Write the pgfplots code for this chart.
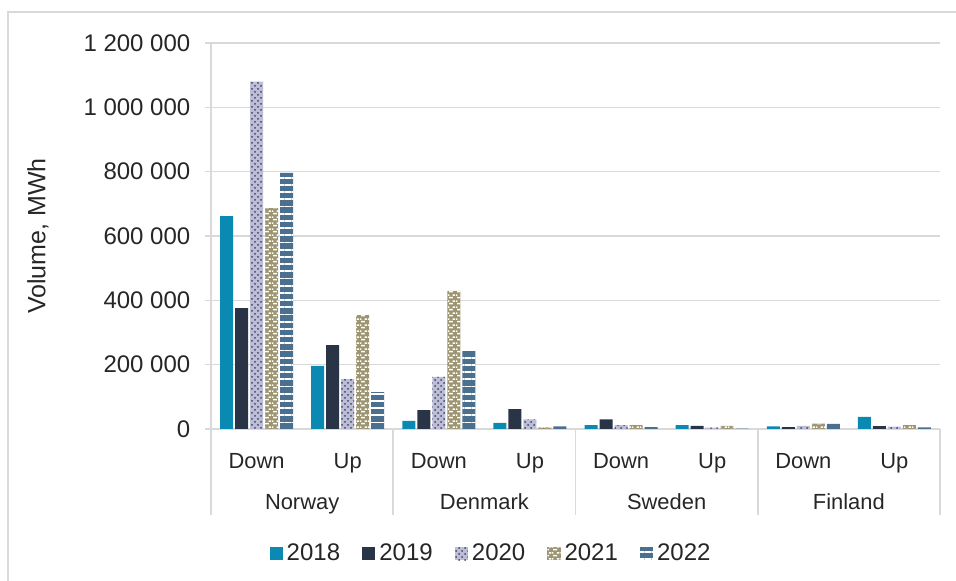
\documentclass[border=0pt,11pt]{standalone}
\usepackage{fontspec}
\setmainfont{Liberation Sans}
\usepackage{pgfplots}
\pgfplotsset{compat=1.18}
\usetikzlibrary{patterns,patterns.meta}
\definecolor{c18}{HTML}{0A89B3}
\definecolor{c19}{HTML}{2A3447}
\definecolor{c20}{HTML}{BDBED4}
\definecolor{c20p}{HTML}{3C4173}
\definecolor{c21}{HTML}{9D9472}
\definecolor{c22}{HTML}{4A6F8F}
\definecolor{gridc}{HTML}{D9D9D9}
\definecolor{txt}{HTML}{262626}
\pgfdeclarepatternformonly{whitebricks}{\pgfpointorigin}{\pgfpoint{4pt}{3pt}}{\pgfpoint{4pt}{3pt}}{%
  \pgfpathrectangle{\pgfpoint{0.6pt}{0.3pt}}{\pgfpoint{2.2pt}{0.9pt}}%
  \pgfpathrectangle{\pgfpoint{2.6pt}{1.8pt}}{\pgfpoint{1.4pt}{0.9pt}}%
  \pgfpathrectangle{\pgfpoint{0pt}{1.8pt}}{\pgfpoint{0.8pt}{0.9pt}}%
  \pgfusepath{fill}}
\begin{document}
\begin{tikzpicture}
\useasboundingbox (0,0) rectangle (478pt,290.5pt);
\draw[gridc, line width=0.9pt] (4pt,-5pt) -- (4pt,284.5pt) -- (490pt,284.5pt);
\begin{axis}[
  at={(105.5pt,76pt)}, anchor=south west,
  scale only axis, width=364.5pt, height=193pt,
  ybar=1pt, bar width=6.5pt,
  xmin=-0.5, xmax=7.5, ymin=0, ymax=1200000,
  scaled y ticks=false,
  xtick={0,...,7},
  xticklabels={Down,Up,Down,Up,Down,Up,Down,Up},
  xtick style={draw=none},
  xticklabel style={anchor=base, yshift=-17pt, text=txt},
  ytick={0,200000,400000,600000,800000,1000000,1200000},
  yticklabels={0,200 000,400 000,600 000,800 000,1 000 000,1 200 000},
  yticklabel style={text=txt, xshift=-3.5pt, font=\fontsize{12}{14}\selectfont},
  ytick align=outside, major tick length=3pt,
  ytick style={gridc, line width=0.8pt},
  ymajorgrids, grid style={gridc, line width=0.8pt},
  axis x line*=bottom, axis y line*=left,
  axis line style={gridc, line width=0.8pt, -},
  clip=false,
  legend columns=5,
  legend style={draw=none, at={(0.3855,-0.323)}, anchor=center, font=\fontsize{12}{14}\selectfont, text=txt,
    /tikz/every even column/.append style={column sep=9pt}},
  legend image code/.code={\path[#1] (0pt,-3.3pt) rectangle (6.6pt,3.3pt);},
]
\addplot[fill=c18, draw=none] coordinates {(0,662000) (1,196000) (2,25000) (3,19000) (4,12000) (5,12000) (6,8000) (7,38000)};
\addplot[fill=c19, draw=none] coordinates {(0,376000) (1,261000) (2,59000) (3,62000) (4,30000) (5,10000) (6,6000) (7,9000)};
\addplot[fill=c20, draw=none, postaction={pattern=crosshatch dots, pattern color=c20p}] coordinates {(0,1080000) (1,155000) (2,162000) (3,30000) (4,12000) (5,4000) (6,10000) (7,7000)};
\addplot[fill=c21, draw=none, postaction={pattern=whitebricks, pattern color=white}] coordinates {(0,687000) (1,354000) (2,429000) (3,5000) (4,12000) (5,10000) (6,17000) (7,12000)};
\addplot[fill=c22, draw=none, postaction={pattern={Lines[angle=0,distance=3.6pt,line width=0.9pt]}, pattern color=white}] coordinates {(0,796000) (1,115000) (2,242000) (3,8000) (4,6000) (5,1000) (6,16000) (7,5000)};
\legend{2018,2019,2020,2021,2022}
\draw[gridc, line width=0.8pt] (axis cs:-0.5,0) -- ([yshift=-43pt]axis cs:-0.5,0);
\draw[gridc, line width=0.8pt] (axis cs:1.5,0) -- ([yshift=-43pt]axis cs:1.5,0);
\draw[gridc, line width=0.8pt] (axis cs:3.5,0) -- ([yshift=-43pt]axis cs:3.5,0);
\draw[gridc, line width=0.8pt] (axis cs:5.5,0) -- ([yshift=-43pt]axis cs:5.5,0);
\draw[gridc, line width=0.8pt] (axis cs:7.5,0) -- ([yshift=-43pt]axis cs:7.5,0);
\node[text=txt, anchor=base] at ([yshift=-40.5pt]axis cs:0.5,0) {Norway};
\node[text=txt, anchor=base] at ([yshift=-40.5pt]axis cs:2.5,0) {Denmark};
\node[text=txt, anchor=base] at ([yshift=-40.5pt]axis cs:4.5,0) {Sweden};
\node[text=txt, anchor=base] at ([yshift=-40.5pt]axis cs:6.5,0) {Finland};
\end{axis}
\node[rotate=90, text=txt, font=\fontsize{12.5}{14}\selectfont] at (19pt,172.5pt) {Volume, MWh};
\end{tikzpicture}
\end{document}
